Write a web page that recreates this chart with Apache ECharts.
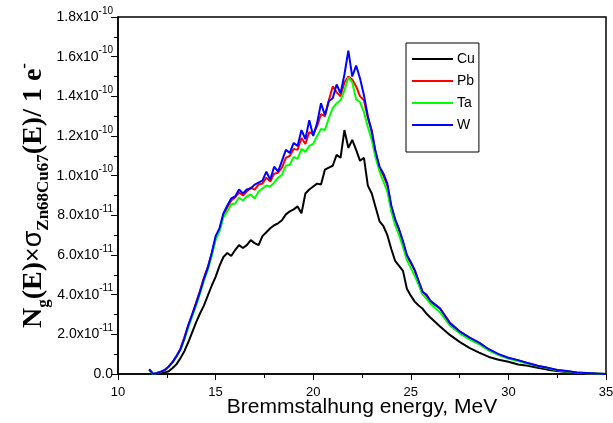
<!DOCTYPE html>
<html>
<head>
<meta charset="utf-8">
<script src="https://cdn.jsdelivr.net/npm/echarts@6/dist/echarts.min.js"></script>
<style>
  html, body { margin: 0; padding: 0; background: #fff; }
  #chart { width: 613px; height: 423px; }
</style>
</head>
<body>
<div id="chart"></div>
<script>
// Bremsstrahlung photon energy, MeV
const energy = [
  11.6, 11.8, 12.0, 12.2, 12.4, 12.6, 12.8, 13.0, 13.2, 13.4,
  13.6, 13.8, 14.0, 14.2, 14.4, 14.6, 14.8, 15.0, 15.2, 15.4,
  15.6, 15.8, 16.0, 16.2, 16.4, 16.6, 16.8, 17.0, 17.2, 17.4,
  17.6, 17.8, 18.0, 18.2, 18.4, 18.6, 18.8, 19.0, 19.2, 19.4,
  19.6, 19.8, 20.0, 20.2, 20.4, 20.6, 20.8, 21.0, 21.2, 21.4,
  21.6, 21.8, 22.0, 22.2, 22.4, 22.6, 22.8, 23.0, 23.2, 23.4,
  23.6, 23.8, 24.0, 24.2, 24.4, 24.6, 24.8, 25.0, 25.2, 25.4,
  25.6, 25.8, 26.0,
  26.5, 27.0, 27.5, 28.0, 28.5, 29.0, 29.5, 30.0, 30.5, 31.0,
  31.5, 32.0, 32.5, 33.0, 33.5, 34.0, 34.5, 35.0
];

// N_g(E) x sigma(E) per electron, in units of 1e-11
const cu = [
  0.2, 0.0, 0.0, 0.03, 0.08, 0.14, 0.3, 0.5, 0.8, 1.15,
  1.6, 2.1, 2.6, 3.05, 3.45, 3.95, 4.45, 4.9, 5.45, 5.9,
  6.1, 5.95, 6.25, 6.5, 6.35, 6.5, 6.75, 6.6, 6.5, 6.95,
  7.15, 7.35, 7.5, 7.6, 7.75, 8.05, 8.2, 8.3, 8.45, 8.1,
  9.1, 9.3, 9.45, 9.6, 9.55, 10.3, 10.4, 10.5, 11.05, 10.9,
  12.3, 11.4, 11.8, 11.3, 10.75, 10.9, 9.5, 9.1, 8.4, 7.7,
  7.45, 7.0, 6.3, 5.7, 5.45, 5.2, 4.3, 3.95, 3.65, 3.45,
  3.3, 3.05, 2.85,
  2.4, 1.97, 1.62, 1.32, 1.08, 0.86, 0.72, 0.62, 0.48, 0.42,
  0.32, 0.22, 0.15, 0.1, 0.06, 0.03, 0.01, 0.0
];
const pb = [
  0.2, 0.0, 0.05, 0.12, 0.2, 0.38, 0.62, 0.92, 1.28, 1.85,
  2.45, 3.0, 3.6, 4.2, 4.85, 5.4, 6.05, 6.85, 7.25, 8.0,
  8.4, 8.75, 8.9, 9.15, 9.0, 9.2, 9.4, 9.3, 9.55, 9.6,
  9.9, 9.7, 10.1, 10.15, 10.4, 10.9, 11.0, 11.35, 11.3, 11.9,
  11.6, 12.2, 12.1, 12.5, 13.1, 13.0, 13.8, 14.5, 14.2, 14.0,
  14.7, 15.0, 14.85, 14.5, 14.0, 13.8, 12.9, 12.3, 11.1, 10.35,
  10.0, 9.5, 8.45, 7.75, 7.25, 6.6, 5.95, 5.6, 5.2, 4.65,
  4.15, 3.95, 3.65,
  3.3, 2.6, 2.15, 1.82, 1.56, 1.22, 0.98, 0.8, 0.68, 0.54,
  0.41, 0.31, 0.2, 0.14, 0.08, 0.04, 0.02, 0.0
];
const ta = [
  0.2, 0.0, 0.05, 0.12, 0.2, 0.38, 0.6, 0.88, 1.22, 1.75,
  2.35, 2.9, 3.45, 4.05, 4.7, 5.25, 5.95, 6.75, 7.2, 7.9,
  8.2, 8.55, 8.6, 8.9, 8.75, 8.95, 9.05, 8.85, 9.2, 9.35,
  9.5, 9.45, 9.65, 9.9, 10.05, 10.5, 10.55, 10.95, 10.85, 11.35,
  11.2, 11.5, 11.6, 12.0, 12.35, 12.3, 12.9, 13.4, 13.65, 13.8,
  14.3, 14.95, 14.7, 13.85, 13.7, 13.2, 12.45, 11.8, 10.9, 10.2,
  9.7, 9.2, 8.2, 7.5, 7.0, 6.4, 5.75, 5.35, 4.95, 4.5,
  4.0, 3.8, 3.55,
  3.1, 2.45, 2.05, 1.75, 1.5, 1.18, 0.95, 0.78, 0.65, 0.52,
  0.4, 0.3, 0.19, 0.13, 0.07, 0.04, 0.02, 0.0
];
const w = [
  0.25, 0.0, 0.05, 0.12, 0.2, 0.38, 0.6, 0.9, 1.25, 1.8,
  2.45, 3.0, 3.55, 4.15, 4.8, 5.35, 6.1, 6.95, 7.35, 8.1,
  8.5, 8.85, 8.95, 9.3, 9.1, 9.3, 9.35, 9.55, 9.65, 9.75,
  10.2, 9.8, 10.45, 10.2, 10.75, 11.3, 11.15, 11.65, 11.5, 12.3,
  11.85, 12.8, 12.0, 12.65, 13.65, 13.05, 13.75, 13.9, 14.6, 14.15,
  15.1, 16.3, 15.0, 15.55, 14.9, 14.05, 13.0, 12.2, 11.2, 10.45,
  10.1, 9.6, 8.5, 7.8, 7.3, 6.7, 6.0, 5.65, 5.25, 4.7,
  4.15, 4.0, 3.7,
  3.3, 2.56, 2.15, 1.85, 1.58, 1.25, 1.0, 0.82, 0.7, 0.55,
  0.42, 0.32, 0.2, 0.15, 0.08, 0.05, 0.02, 0.0
];

const seriesNames = ['Cu', 'Pb', 'Ta', 'W'];
const seriesColors = ['#000000', '#ff0000', '#00ff00', '#0000ff'];
const seriesValues = [cu, pb, ta, w];

const xTicks = { min: 10, max: 35, step: 5 };
const yTicks = { min: 0, max: 18, step: 2 };

function pairs(values) {
  return energy.map((e, i) => [e, values[i]]);
}

function yLabel(v) {
  if (v === 0) return '{m|0.0}';
  if (v < 10) return '{m|' + v.toFixed(1) + 'x10}{s|-11}';
  return '{m|' + (v / 10).toFixed(1) + 'x10}{s|-10}';
}

const sansFont = '"Liberation Sans", Arial, sans-serif';
const serifFont = '"Liberation Serif", "Times New Roman", serif';

const chart = echarts.init(document.getElementById('chart'), null, { renderer: 'canvas' });

chart.setOption({
  animation: false,
  backgroundColor: '#ffffff',
  grid: {
    left: 118, right: 7, top: 17, bottom: 49,
    containLabel: false,
    outerBoundsMode: 'none',
    show: true, borderColor: '#000', borderWidth: 1.5, backgroundColor: 'transparent'
  },
  legend: {
    orient: 'vertical',
    left: 406, top: 43,
    padding: [9, 4, 20, 5],
    itemWidth: 41, itemHeight: 14, itemGap: 8,
    borderColor: '#000', borderWidth: 1,
    backgroundColor: '#fff',
    itemStyle: { opacity: 0 },
    textStyle: { fontFamily: sansFont, fontSize: 14, color: '#000', padding: [0, 0, 0, -1] },
    data: seriesNames
  },
  xAxis: {
    type: 'value',
    min: xTicks.min, max: xTicks.max, interval: xTicks.step,
    name: 'Bremmstalhung energy, MeV',
    nameLocation: 'middle',
    nameGap: 23,
    nameMoveOverlap: false,
    nameTextStyle: { fontFamily: sansFont, fontSize: 21, color: '#000' },
    axisLine: { lineStyle: { color: '#000', width: 1.5 } },
    axisTick: { show: true, inside: false, length: 6, lineStyle: { color: '#000', width: 1 } },
    minorTick: { show: true, splitNumber: 2, length: 4, lineStyle: { color: '#000', width: 1 } },
    axisLabel: { fontFamily: sansFont, fontSize: 13, color: '#000', margin: 12 },
    splitLine: { show: false }
  },
  yAxis: {
    type: 'value',
    min: yTicks.min, max: yTicks.max, interval: yTicks.step,
    name: '{big|N}{sub|g}{big|(E)}{x|×}{sig|σ}{sub|Zn68Cu67}{big|(E)/ 1 e}{sup|-}',
    nameLocation: 'middle',
    nameRotate: 90,
    nameGap: 66,
    nameMoveOverlap: false,
    nameTextStyle: {
      color: '#000',
      rich: {
        big: { fontFamily: serifFont, fontWeight: 'bold', fontSize: 28, lineHeight: 36, verticalAlign: 'middle', color: '#000' },
        sub: { fontFamily: serifFont, fontWeight: 'bold', fontSize: 17, lineHeight: 17, verticalAlign: 'bottom', color: '#000' },
        sup: { fontFamily: serifFont, fontWeight: 'bold', fontSize: 17, lineHeight: 17, verticalAlign: 'top', color: '#000' },
        x: { fontFamily: sansFont, fontSize: 25, lineHeight: 36, verticalAlign: 'middle', color: '#000' },
        sig: { fontFamily: sansFont, fontSize: 27, lineHeight: 36, verticalAlign: 'middle', color: '#000' }
      }
    },
    axisLine: { lineStyle: { color: '#000', width: 1.5 } },
    axisTick: { show: true, inside: false, length: 7, lineStyle: { color: '#000', width: 1 } },
    minorTick: { show: true, splitNumber: 2, length: 4, lineStyle: { color: '#000', width: 1 } },
    axisLabel: {
      margin: 5,
      formatter: yLabel,
      rich: {
        m: { fontFamily: sansFont, fontSize: 14, lineHeight: 22, verticalAlign: 'middle', color: '#000' },
        s: { fontFamily: sansFont, fontSize: 10, lineHeight: 11, verticalAlign: 'top', color: '#000' }
      }
    },
    splitLine: { show: false }
  },
  series: seriesNames.map((name, i) => ({
    name: name,
    type: 'line',
    data: pairs(seriesValues[i]),
    showSymbol: false,
    symbol: 'none',
    lineStyle: { color: seriesColors[i], width: 2 },
    itemStyle: { color: seriesColors[i] },
    z: 2 + i
  }))
});
</script>
</body>
</html>
